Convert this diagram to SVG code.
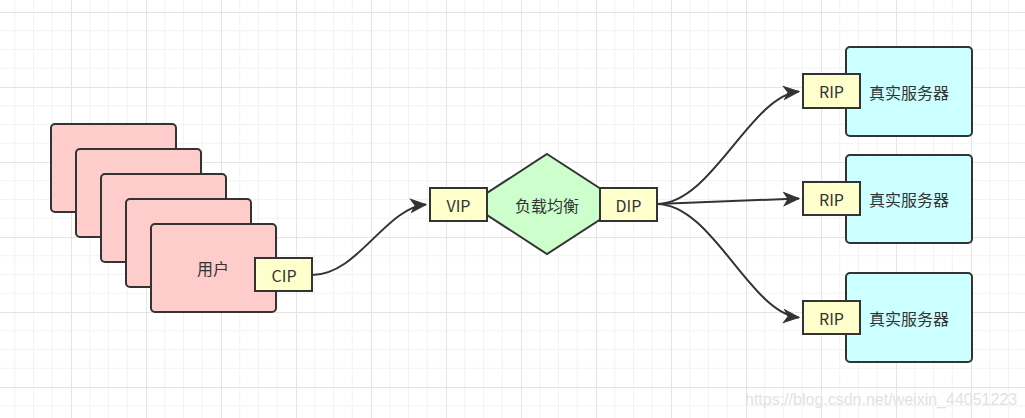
<svg xmlns="http://www.w3.org/2000/svg" width="1025" height="418" viewBox="0 0 1025 418">
  <defs>
    <pattern id="grid" x="-4" y="12" width="75" height="75" patternUnits="userSpaceOnUse">
      <path d="M18.75,0V75M37.5,0V75M56.25,0V75M0,18.75H75M0,37.5H75M0,56.25H75" stroke="#f2f2f2" stroke-width="1" fill="none"/>
      <path d="M0.5,0V75M0,0.5H75" stroke="#e5e5e5" stroke-width="1" fill="none"/>
    </pattern>
    <marker id="arrow" viewBox="-16 -8 20 16" refX="0" refY="0" markerWidth="20" markerHeight="16" markerUnits="userSpaceOnUse" orient="auto">
      <path d="M-15,-6.5 L0,0 L-15,6.5 L-11,0 Z" fill="#333333" stroke="#333333" stroke-width="1" stroke-linejoin="miter"/>
    </marker>
  </defs>
  <style>
    .box { stroke: #333333; stroke-width: 2; }
    .user { fill: #ffcccc; }
    .port { fill: #ffffcc; }
    .srv { fill: #ccffff; }
    .lb { fill: #ccffcc; }
    .edge { fill: none; stroke: #333333; stroke-width: 2; }
    text { font-family: "Microsoft YaHei", "Noto Sans CJK SC", "Noto Sans", sans-serif; font-size: 16px; fill: #333333; text-anchor: middle; dominant-baseline: central; }
    .wm { font-family: "Liberation Sans", Arial, sans-serif; font-size: 16px; fill: #e2e2e2; text-anchor: start; dominant-baseline: alphabetic; }
  </style>
  <rect width="1025" height="418" fill="#ffffff"/>
  <rect width="1025" height="418" fill="url(#grid)"/>

  <g id="connectors">
    <path class="edge" d="M312,275 C358,275 385,208 426,204.5" marker-end="url(#arrow)"/>
    <path class="edge" d="M657,204 C712,204 750,96 799,91.5" marker-end="url(#arrow)"/>
    <path class="edge" d="M657,204 L799,198.5" marker-end="url(#arrow)"/>
    <path class="edge" d="M657,204 C712,204 750,313 799,317.5" marker-end="url(#arrow)"/>
  </g>

  <g id="users">
    <rect class="box user" x="51" y="124" width="125" height="88" rx="4"/>
    <rect class="box user" x="76" y="149" width="125" height="88" rx="4"/>
    <rect class="box user" x="101" y="174" width="125" height="88" rx="4"/>
    <rect class="box user" x="126" y="199" width="125" height="88" rx="4"/>
  </g>
  <g id="user">
    <rect class="box user" x="151" y="224" width="125" height="88" rx="4"/>
    <text x="213" y="268">用户</text>
  </g>
  <g id="cip">
    <rect class="box port" x="255" y="258" width="57" height="33"/>
    <text x="284" y="274.5">CIP</text>
  </g>

  <g id="lb">
    <path class="box lb" d="M547,154 L624,204 L547,254 L470,204 Z"/>
    <text x="547" y="205">负载均衡</text>
  </g>
  <g id="vip">
    <rect class="box port" x="430" y="188" width="57" height="33"/>
    <text x="458.5" y="204.5">VIP</text>
  </g>
  <g id="dip">
    <rect class="box port" x="600" y="188" width="57" height="33"/>
    <text x="628.5" y="204.5">DIP</text>
  </g>

  <g id="server1">
    <rect class="box srv" x="846" y="47" width="126" height="89" rx="4"/>
    <text x="909" y="91.5">真实服务器</text>
  </g>
  <g id="rip1">
    <rect class="box port" x="803" y="74" width="57" height="34"/>
    <text x="831.5" y="91">RIP</text>
  </g>

  <g id="server2">
    <rect class="box srv" x="846" y="155" width="126" height="88" rx="4"/>
    <text x="909" y="198.5">真实服务器</text>
  </g>
  <g id="rip2">
    <rect class="box port" x="803" y="182" width="57" height="33"/>
    <text x="831.5" y="198.5">RIP</text>
  </g>

  <g id="server3">
    <rect class="box srv" x="846" y="273" width="126" height="89" rx="4"/>
    <text x="909" y="317.5">真实服务器</text>
  </g>
  <g id="rip3">
    <rect class="box port" x="803" y="301" width="57" height="33"/>
    <text x="831.5" y="317.5">RIP</text>
  </g>

  <text class="wm" x="745" y="405">https://blog.csdn.net/weixin_44051223</text>
</svg>
